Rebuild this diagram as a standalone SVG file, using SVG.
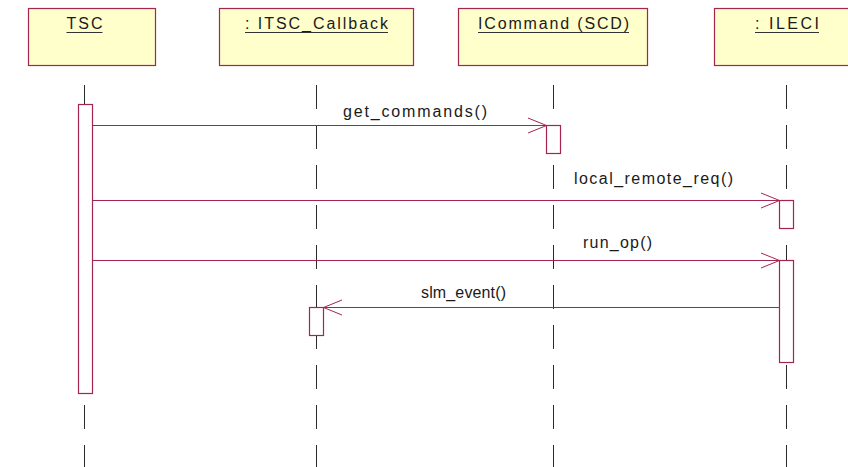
<svg xmlns="http://www.w3.org/2000/svg" width="848" height="467" viewBox="0 0 848 467">
<style>
.obj{fill:#FFFFCC;stroke:#A3264F;stroke-width:1.2}
.title{font-family:"Liberation Sans",Arial,sans-serif;font-size:16px;fill:#1a1a1a}
.ul{stroke:#333;stroke-width:1}
.life{stroke:#2a2a2a;stroke-width:1;stroke-dasharray:24 16;fill:none}
.act{fill:#fff;stroke:#A3264F;stroke-width:1.2}
.msg{stroke:#A3264F;stroke-width:1;fill:none}
.lbl{font-family:"Liberation Sans",Arial,sans-serif;font-size:16px;fill:#1a1a1a}
</style>
<rect width="848" height="467" fill="#fff"/>
<g id="lifelines">
<line class="life" x1="84.5" y1="85" x2="84.5" y2="467"/>
<line class="life" x1="316.5" y1="85" x2="316.5" y2="467"/>
<line class="life" x1="553.5" y1="85" x2="553.5" y2="467"/>
<line class="life" x1="786.5" y1="85" x2="786.5" y2="467"/>
</g>
<g id="TSC">
<rect class="obj" x="28.5" y="8.5" width="127" height="57"/>
<text class="title" x="66.5" y="29" textLength="36" lengthAdjust="spacing">TSC</text>
<line class="ul" x1="66.5" y1="32.5" x2="102.5" y2="32.5"/>
</g>
<g id="ITSC_Callback">
<rect class="obj" x="219.5" y="8.5" width="194" height="57"/>
<text class="title" x="245" y="29" textLength="143" lengthAdjust="spacing">: ITSC_Callback</text>
<line class="ul" x1="245" y1="32.5" x2="388" y2="32.5"/>
</g>
<g id="ICommand">
<rect class="obj" x="458.5" y="8.5" width="189" height="57"/>
<text class="title" x="478" y="29" textLength="151" lengthAdjust="spacing">ICommand (SCD)</text>
<line class="ul" x1="478" y1="32.5" x2="629" y2="32.5"/>
</g>
<g id="ILECI">
<rect class="obj" x="714.5" y="8.5" width="146" height="57"/>
<text class="title" x="755" y="29" textLength="64" lengthAdjust="spacing">: ILECI</text>
<line class="ul" x1="755" y1="32.5" x2="819" y2="32.5"/>
</g>
<g id="activations">
<rect class="act" x="78.5" y="104.5" width="14" height="289"/>
<rect class="act" x="546.5" y="125.5" width="14" height="28"/>
<rect class="act" x="779.5" y="200.5" width="14" height="28"/>
<rect class="act" x="779.5" y="260.5" width="14" height="102"/>
<rect class="act" x="309.5" y="307.5" width="14" height="28"/>
</g>
<g id="connectors">
<line class="msg" x1="92.5" y1="125.5" x2="546.5" y2="125.5"/>
<polyline class="msg" points="528,118 546.5,125.5 528,133"/>
<line class="msg" x1="92.5" y1="200.5" x2="779.5" y2="200.5"/>
<polyline class="msg" points="761,193 779.5,200.5 761,208"/>
<line class="msg" x1="92.5" y1="260.5" x2="779.5" y2="260.5"/>
<polyline class="msg" points="761,253 779.5,260.5 761,268"/>
<line class="msg" x1="779.5" y1="307.5" x2="323.5" y2="307.5"/>
<polyline class="msg" points="342,300 323.5,307.5 342,315"/>
</g>
<g id="labels">
<text class="lbl" x="343" y="117" textLength="144" lengthAdjust="spacing">get_commands()</text>
<text class="lbl" x="574" y="184" textLength="159" lengthAdjust="spacing">local_remote_req()</text>
<text class="lbl" x="583" y="248" textLength="69" lengthAdjust="spacing">run_op()</text>
<text class="lbl" x="421" y="298" textLength="85" lengthAdjust="spacing">slm_event()</text>
</g>
</svg>
